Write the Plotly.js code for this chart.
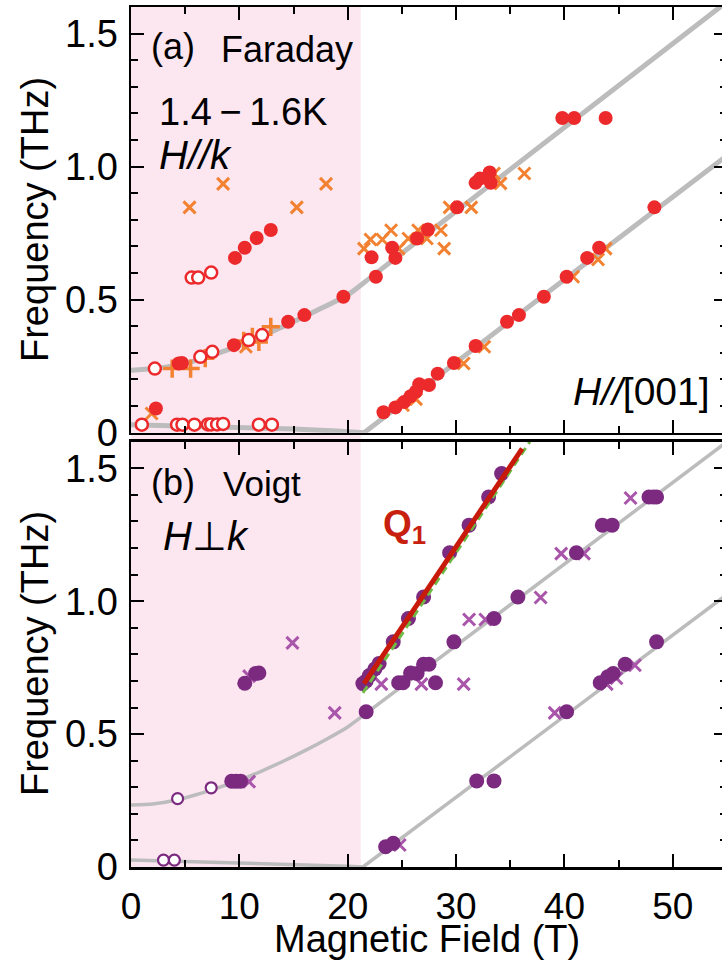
<!DOCTYPE html>
<html>
<head>
<meta charset="utf-8">
<script src="https://cdn.plot.ly/plotly-3.0.1.min.js"></script>
<style>
html,body{margin:0;padding:0;background:#fff;overflow:hidden;}
#chart{width:728px;height:963px;}
</style>
</head>
<body>
<div id="chart"></div>
<script>
// ---------- Panel (a) Faraday data ----------
var aCrossX = [5.4, 8.5, 15.3, 18.0, 1.9, 10.6, 21.5, 22.1, 23.2, 24.0, 24.7, 25.6, 26.5, 27.3, 28.6, 28.9, 29.4, 31.4, 33.5, 34.1, 36.3, 25.1, 26.3, 30.7, 32.6, 40.8, 43.1, 43.8];
var aCrossY = [0.847, 0.935, 0.847, 0.935, 0.072, 0.323, 0.692, 0.726, 0.726, 0.761, 0.692, 0.730, 0.761, 0.730, 0.761, 0.692, 0.847, 0.847, 0.974, 0.937, 0.974, 0.103, 0.126, 0.260, 0.323, 0.586, 0.651, 0.692];
var aPlusX = [3.8, 5.5, 6.85, 10.4, 11.2, 11.8, 12.9];
var aPlusY = [0.241, 0.241, 0.280, 0.345, 0.360, 0.341, 0.398];
var aFillX = [2.3, 4.4, 4.7, 9.5, 14.5, 16.0, 19.6, 9.6, 10.5, 11.6, 12.9,
              22.2, 22.6, 24.1, 24.4, 26.4, 27.4, 30.1, 31.8, 32.2, 33.1, 33.2, 39.8, 40.9, 43.8,
              23.3, 24.4, 25.2, 25.8, 26.3, 26.6, 27.5, 28.3, 29.8, 31.8, 34.7, 35.8, 38.1, 40.2, 42.1, 43.2, 48.3];
var aFillY = [0.091, 0.260, 0.262, 0.329, 0.417, 0.442, 0.511, 0.657, 0.695, 0.732, 0.762,
              0.659, 0.586, 0.695, 0.657, 0.730, 0.764, 0.847, 0.939, 0.955, 0.978, 0.939, 1.183, 1.183, 1.183,
              0.077, 0.095, 0.115, 0.137, 0.155, 0.182, 0.179, 0.222, 0.262, 0.326, 0.417, 0.442, 0.511, 0.586, 0.657, 0.695, 0.847];
var aOpenX = [1.0, 4.25, 4.75, 5.85, 7.1, 7.4, 7.95, 8.5, 11.8, 13.0,
              2.2, 6.4, 7.5, 10.85, 12.1,
              5.6, 6.2, 7.4];
var aOpenY = [0.030, 0.030, 0.030, 0.030, 0.031, 0.031, 0.031, 0.033, 0.030, 0.030,
              0.241, 0.285, 0.304, 0.348, 0.367,
              0.583, 0.583, 0.602];
// gray model curves (panel a)
var aCurveLowX = [0, 5, 10, 15, 19, 21.5, 55];
var aCurveLowY = [0.030, 0.026, 0.021, 0.014, 0.006, 0.0, 1.042];
var aCurveMidX = [0, 2, 4, 6, 8, 10, 12, 14, 16, 18, 20, 22, 55];
var aCurveMidY = [0.235, 0.240, 0.252, 0.272, 0.298, 0.328, 0.362, 0.398, 0.437, 0.476, 0.518, 0.580, 1.620];

// ---------- Panel (b) Voigt data ----------
var bFillX = [10.5, 11.5, 11.8, 9.3, 9.7, 10.1,
              21.4, 21.7, 22.0, 22.5, 22.9, 24.2, 25.6, 27.0, 29.4, 31.2, 33.0, 34.2,
              21.7, 24.7, 25.1, 25.8, 26.4, 27.0, 27.5, 28.1, 29.8, 33.5, 35.7, 41.1, 43.5, 44.4, 47.8, 48.2, 48.5,
              23.5, 24.2, 31.9, 33.5, 40.2, 43.3, 44.0, 44.5, 45.6, 48.5];
var bFillY = [0.691, 0.728, 0.730, 0.323, 0.323, 0.323,
              0.690, 0.700, 0.720, 0.745, 0.766, 0.847, 0.935, 1.016, 1.182, 1.286, 1.392, 1.480,
              0.584, 0.693, 0.693, 0.730, 0.728, 0.763, 0.763, 0.693, 0.847, 0.935, 1.016, 1.182, 1.286, 1.286, 1.392, 1.392, 1.392,
              0.076, 0.089, 0.324, 0.324, 0.584, 0.693, 0.716, 0.728, 0.763, 0.847];
var bCrossX = [14.9, 18.8, 10.9, 10.9, 23.1, 26.8, 30.7, 31.2, 32.7, 37.8, 39.7, 41.8, 46.1, 24.8, 39.1, 43.9, 44.8, 46.5];
var bCrossY = [0.843, 0.580, 0.718, 0.321, 0.688, 0.688, 0.688, 0.931, 0.931, 1.014, 1.179, 1.179, 1.388, 0.083, 0.580, 0.688, 0.710, 0.759];
var bOpenX = [4.3, 7.4, 3.0, 4.0];
var bOpenY = [0.257, 0.298, 0.026, 0.026];
// gray model curves (panel b)
var bCurveLowX = [0, 5, 10, 15, 20, 21.4, 55];
var bCurveLowY = [0.026, 0.021, 0.015, 0.009, 0.003, 0.0, 1.025];
var bCurveMidX = [0, 2, 4, 6, 8, 10, 12, 14, 16, 18, 20, 21.5, 55];
var bCurveMidY = [0.233, 0.237, 0.250, 0.272, 0.298, 0.326, 0.360, 0.397, 0.437, 0.480, 0.527, 0.572, 1.600];
// Q1 lines
var q1RedX = [21.5, 36.1];
var q1RedY = [0.690, 1.574];
var q1GreenX = [21.4, 36.8];
var q1GreenY = [0.655, 1.600];

// categories / ticks
var xTicks = [0, 10, 20, 30, 40, 50];
var xTickText = ['0', '10', '20', '30', '40', '50'];
var yTicks = [0, 0.5, 1.0, 1.5];
var yTickText = ['0', '0.5', '1.0', '1.5'];

// ---------- styling ----------
var FONT = 'Liberation Sans, Arial, Helvetica, sans-serif';
var RED = '#ec2a2c', ORANGE = '#f28232', PURPLE = '#7b2a80', LPURPLE = '#a955aa', GRAY = '#bcbcbc';

var traces = [
  {x: aCurveLowX, y: aCurveLowY, xaxis: 'x2', yaxis: 'y2', mode: 'lines', line: {color: GRAY, width: 5}, hoverinfo: 'skip'},
  {x: aCurveMidX, y: aCurveMidY, xaxis: 'x2', yaxis: 'y2', mode: 'lines', line: {color: GRAY, width: 5, shape: 'spline', smoothing: 0.6}, hoverinfo: 'skip'},
  {x: aCrossX, y: aCrossY, xaxis: 'x2', yaxis: 'y2', mode: 'markers', marker: {symbol: 'x-thin', size: 12, color: ORANGE, line: {color: ORANGE, width: 3}}},
  {x: aPlusX, y: aPlusY, xaxis: 'x2', yaxis: 'y2', mode: 'markers', marker: {symbol: 'cross-thin', size: 13, color: ORANGE, line: {color: ORANGE, width: 3.5}}},
  {x: aFillX, y: aFillY, xaxis: 'x2', yaxis: 'y2', mode: 'markers', marker: {symbol: 'circle', size: 14, color: RED, line: {width: 0}}},
  {x: aOpenX, y: aOpenY, xaxis: 'x2', yaxis: 'y2', mode: 'markers', marker: {symbol: 'circle', size: 12, color: '#ffffff', line: {color: RED, width: 2.5}}},

  {x: bCurveLowX, y: bCurveLowY, xaxis: 'x', yaxis: 'y', mode: 'lines', line: {color: GRAY, width: 3.5}, hoverinfo: 'skip'},
  {x: bCurveMidX, y: bCurveMidY, xaxis: 'x', yaxis: 'y', mode: 'lines', line: {color: GRAY, width: 3.5, shape: 'spline', smoothing: 0.6}, hoverinfo: 'skip'},
  {x: bCrossX, y: bCrossY, xaxis: 'x', yaxis: 'y', mode: 'markers', marker: {symbol: 'x-thin', size: 12, color: LPURPLE, line: {color: LPURPLE, width: 3}}},
  {x: bFillX, y: bFillY, xaxis: 'x', yaxis: 'y', mode: 'markers', marker: {symbol: 'circle', size: 15, color: PURPLE, line: {width: 0}}},
  {x: bOpenX, y: bOpenY, xaxis: 'x', yaxis: 'y', mode: 'markers', marker: {symbol: 'circle', size: 11, color: '#ffffff', line: {color: PURPLE, width: 2.2}}},
  {x: q1GreenX, y: q1GreenY, xaxis: 'x', yaxis: 'y', mode: 'lines', line: {color: '#6fba45', width: 3, dash: '8px,5px'}, hoverinfo: 'skip'},
  {x: q1RedX, y: q1RedY, xaxis: 'x', yaxis: 'y', mode: 'lines', line: {color: '#c81a0a', width: 5}, hoverinfo: 'skip'}
];

function axisX(extra) {
  var o = {
    range: [0, 55], showgrid: false, zeroline: false, showline: true, linecolor: '#000', linewidth: 2.5,
    mirror: 'ticks', ticks: 'inside', ticklen: 13, tickwidth: 2, tickcolor: '#000',
    tickvals: xTicks, ticktext: xTickText, tickfont: {family: FONT, size: 37, color: '#000'},
    ticklabelstandoff: 5,
    minor: {dtick: 5, tick0: 0, ticks: 'inside', ticklen: 7, tickwidth: 2, tickcolor: '#000', showgrid: false}
  };
  for (var k in extra) o[k] = extra[k];
  return o;
}
function axisY(extra) {
  var o = {
    range: [0, 1.6], showgrid: false, zeroline: false, showline: true, linecolor: '#000', linewidth: 2.5,
    mirror: 'ticks', ticks: 'inside', ticklen: 13, tickwidth: 2, tickcolor: '#000',
    tickvals: yTicks, ticktext: yTickText, tickfont: {family: FONT, size: 38, color: '#000'},
    ticklabelstandoff: 3,
    minor: {dtick: 0.1, tick0: 0, ticks: 'inside', ticklen: 7, tickwidth: 2, tickcolor: '#000', showgrid: false}
  };
  for (var k in extra) o[k] = extra[k];
  return o;
}

var L = 131, PW = 596, B = 867, PH = 860;
function PX(px) { return (px - L) / PW; }
function PY(py) { return (B - py) / PH; }

function ann(text, px, py, size, opts) {
  var a = {text: text, x: PX(px), y: PY(py), xref: 'paper', yref: 'paper', showarrow: false,
           xanchor: 'left', yanchor: 'middle', font: {family: FONT, size: size, color: '#000'}};
  for (var k in opts) a[k] = opts[k];
  return a;
}

var annotations = [
  ann('(a)', 149, 47, 36),
  ann('Faraday', 219, 49, 36),
  ann('1.4\u2009\u2212\u20091.6K', 157, 112, 38),
  ann('<i>H//k</i>', 157, 155, 40),
  ann('<i>H//</i>[001]', 712, 391, 39, {xanchor: 'right'}),
  ann('(b)', 149, 482, 36),
  ann('Voigt', 221, 483, 35),
  ann('<i>H</i>\u22a5<i>k</i>', 161, 536, 40),
  ann('<b>Q<sub>1</sub></b>', 381, 526, 37, {font: {family: FONT, size: 37, color: '#c8200e'}}),
  ann('Frequency (THz)', 35, 220, 38, {xanchor: 'center', textangle: -90}),
  ann('Frequency (THz)', 35, 654, 38, {xanchor: 'center', textangle: -90}),
  ann('Magnetic Field (T)', 427, 939, 38, {xanchor: 'center'})
];

var layout = {
  width: 728, height: 963,
  margin: {l: L, r: 728 - L - PW, t: 7, b: 963 - B},
  paper_bgcolor: '#ffffff', plot_bgcolor: 'rgba(0,0,0,0)',
  showlegend: false,
  xaxis: axisX({anchor: 'y', domain: [0, 1]}),
  xaxis2: axisX({anchor: 'y2', domain: [0, 1], matches: 'x', showticklabels: false}),
  yaxis: axisY({anchor: 'x', domain: [0, (B - 441.7) / PH]}),
  yaxis2: axisY({anchor: 'x2', domain: [(B - 432.7) / PH, 1]}),
  shapes: [{type: 'rect', xref: 'x', yref: 'paper', x0: 0, x1: 21.2, y0: 0, y1: 1,
            fillcolor: '#fce6f0', line: {width: 0}, layer: 'below'}],
  annotations: annotations
};

Plotly.newPlot('chart', traces, layout, {displayModeBar: false, staticPlot: true});
</script>
</body>
</html>
